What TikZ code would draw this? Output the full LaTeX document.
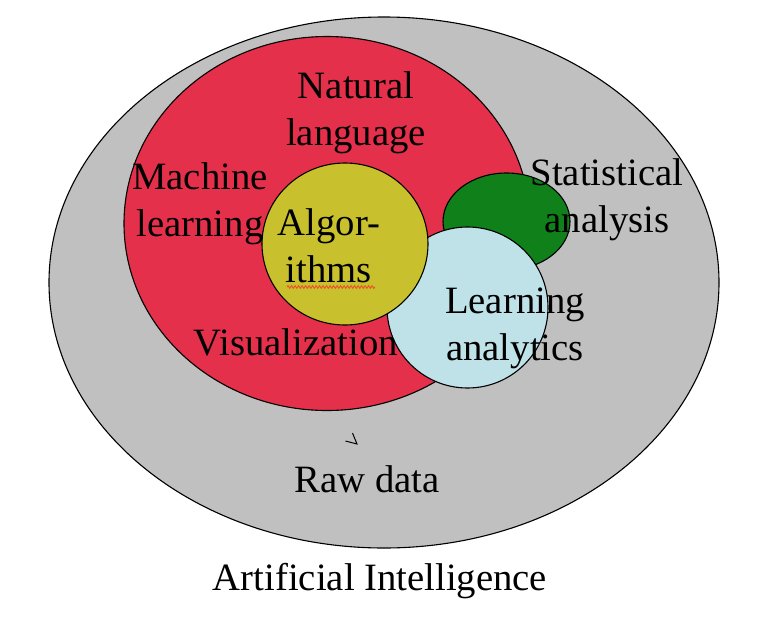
\documentclass[tikz,border=0pt]{standalone}
\usepackage{fontspec}
\setmainfont{Liberation Serif}
\usetikzlibrary{decorations.pathmorphing}
\definecolor{aigray}{HTML}{C0C0C0}
\definecolor{mlred}{HTML}{E4304B}
\definecolor{algyellow}{HTML}{C8C12D}
\definecolor{statgreen}{HTML}{10801A}
\definecolor{lablue}{HTML}{BEE2E7}
\definecolor{squiggle}{HTML}{E8562A}
\begin{document}
\begin{tikzpicture}[x=1pt,y=-1pt,
  area/.style={draw=black,line width=1.1pt},
  lbl/.style={anchor=base,align=center,inner sep=0pt,font=\fontsize{38.7pt}{47pt}\selectfont}]
\useasboundingbox (0,0) rectangle (768,616);
\fill[white] (0,0) rectangle (768,616);
% areas
\draw[area,fill=aigray] (384,282.5) ellipse [x radius=335pt, y radius=265.5pt];
\draw[area,fill=mlred] (327,223.5) ellipse [x radius=203pt, y radius=187pt];
\draw[area,fill=statgreen] (506.5,221.5) ellipse [x radius=63.5pt, y radius=48.5pt];
\draw[area,fill=lablue] (467.5,307.5) ellipse [x radius=80.5pt, y radius=80.5pt];
\draw[area,fill=algyellow] (345,244) ellipse [x radius=83pt, y radius=81pt];
% labels (base anchor = baseline of the last line)
\node[lbl] (nl) at (356,145) {Natural\\language};
\node[lbl] (ml) at (200,236) {Machine\\learning};
\node[lbl] (alg) at (329,282) {Algor-\\ithms};
\node[lbl] (vis) at (296,355) {Visualization};
\node[lbl] (sa) at (607,232) {Statistical\\analysis};
\node[lbl] (la) at (515,360) {Learning\\analytics};
\node[lbl] (raw) at (367,492) {Raw data};
\node[lbl] (ai) at (380,590) {Artificial Intelligence};
% spell-check squiggle under "ithms"
\draw[squiggle,line width=1pt,decorate,decoration={snake,amplitude=1.3pt,segment length=3.5pt}] (287,287) -- (375,287);
% stray mark
\draw[line width=1pt] (352.5,433) -- (357,444) -- (345.5,441);
\end{tikzpicture}
\end{document}
